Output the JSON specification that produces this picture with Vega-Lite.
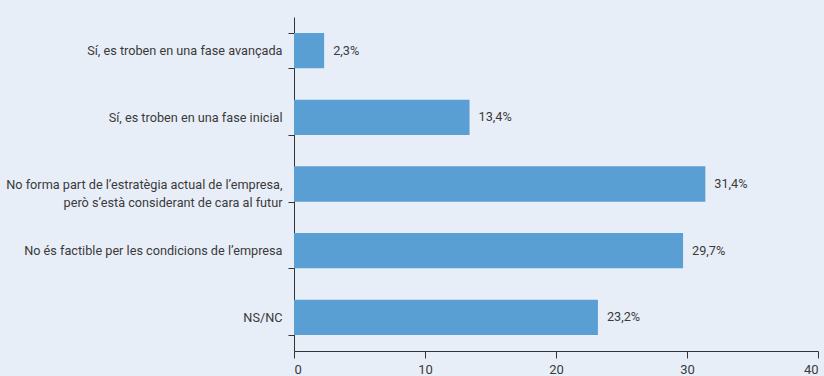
{
  "$schema": "https://vega.github.io/schema/vega-lite/v6.json",
  "autosize": "none",
  "width": 524,
  "height": 334,
  "padding": {"left": 294, "top": 17, "right": 6, "bottom": 25},
  "background": "#e8eef8",
  "config": {
    "view": {"stroke": null},
    "font": "Roboto, Liberation Sans, sans-serif",
    "axis": {"domainColor": "#333333", "tickColor": "#333333", "labelColor": "#3a3a3a", "grid": false, "domainWidth": 1, "tickWidth": 1}
  },
  "data": {
    "values": [
      {"cat": "Sí, es troben en una fase avançada", "value": 2.3, "label": "2,3%"},
      {"cat": "Sí, es troben en una fase inicial", "value": 13.4, "label": "13,4%"},
      {"cat": "No forma part de l’estratègia actual de l’empresa,|però s’està considerant de cara al futur", "value": 31.4, "label": "31,4%"},
      {"cat": "No és factible per les condicions de l’empresa", "value": 29.7, "label": "29,7%"},
      {"cat": "NS/NC", "value": 23.2, "label": "23,2%"}
    ]
  },
  "encoding": {
    "y": {
      "field": "cat", "type": "nominal", "sort": null,
      "scale": {"paddingInner": 0.47, "paddingOuter": 0.24},
      "axis": {"title": null, "tickBand": "extent", "tickSize": 6, "labelPadding": 6, "labelFontSize": 12.7, "labelLimit": 300, "labelExpr": "split(datum.label, '|')", "labelLineHeight": 18}
    },
    "x": {
      "field": "value", "type": "quantitative",
      "scale": {"domain": [0, 40], "nice": false},
      "axis": {"title": null, "values": [0, 10, 20, 30, 40], "tickSize": 7, "labelFontSize": 13, "labelPadding": 5}
    }
  },
  "layer": [
    {"mark": {"type": "bar", "color": "#5a9fd4"}},
    {"mark": {"type": "text", "align": "left", "dx": 9, "fontSize": 12.7, "color": "#3a3a3a"}, "encoding": {"text": {"field": "label"}}}
  ]
}
